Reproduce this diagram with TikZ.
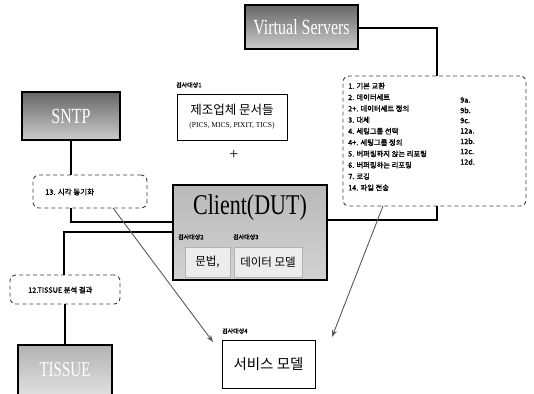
\documentclass[tikz,border=0pt]{standalone}
\usepackage{fontspec}
\usepackage{graphicx}
\setmainfont{Liberation Serif}
\newfontfamily\kr{Noto Sans CJK KR}
\newfontfamily\krb[FakeBold=1.6]{Noto Sans CJK KR}
\usetikzlibrary{arrows.meta}
\begin{document}
\begin{tikzpicture}[x=1pt,y=-1pt,
  darkbox/.style={draw=black, line width=1.6pt, top color=gray!80!black, bottom color=gray!40, text=white, inner sep=0pt},
  dashbox/.style={draw=black!75, dashed, dash pattern=on 4pt off 3pt, rounded corners=6pt, line width=0.9pt, inner sep=0pt},
  whitebox/.style={draw=black, line width=1pt, fill=white, inner sep=0pt},
  conn/.style={draw=black, line width=1.1pt},
  arr/.style={-{Stealth[length=7pt,width=5pt]}, line width=0.9pt, draw=black!65},
  lbl/.style={font=\krb\fontsize{6}{6}\selectfont, inner sep=0pt, anchor=west},
  item/.style={font=\krb\fontsize{7.3}{7.3}\selectfont, inner sep=0pt, anchor=west},
  innerbox/.style={draw=gray!60, fill=gray!15, inner sep=0pt, font=\kr\fontsize{11.5}{11.5}\selectfont}
]
\useasboundingbox (0,0) rectangle (534,393);

% Virtual Servers
\node[darkbox, minimum width=113pt, minimum height=44pt, font=\fontsize{16}{16}\selectfont] (vs) at (301.5,27) {\scalebox{1}[1.35]{Virtual Servers}};

% service list
\node[dashbox, minimum width=183pt, minimum height=130pt] (list) at (434.5,141) {};
\foreach \t [count=\i] in {1. 기본 교환, 2. 데이터세트, 2+. 데이터세트 정의, 3. 대체, 4. 세팅그룹 선택, 4+. 세팅그룹 정의, 5. 버퍼링하지 않는 리포팅, 6. 버퍼링하는 리포팅, 7. 로깅, 14. 파일 전송}
  \node[item] (it\i) at (348, {86+11.3*(\i-1)}) {\t};
\foreach \t [count=\i] in {9a., 9b., 9c., 12a., 12b., 12c., 12d.}
  \node[item] (nr\i) at (460, {100+10.3*(\i-1)}) {\t};

% SNTP
\node[darkbox, minimum width=98pt, minimum height=48pt, font=\fontsize{16}{16}\selectfont] (sntp) at (71,116) {\scalebox{1}[1.35]{SNTP}};
\node[dashbox, minimum width=114pt, minimum height=33pt] (sync) at (90,191.5) {};
\node[item, font=\krb\fontsize{7.5}{7.5}\selectfont] (synct) at (45,192) {13. 시각 동기화};

% Manufacturer documents
\node[lbl] (l1) at (176,85) {검사대상1};
\node[whitebox, minimum width=110pt, minimum height=46pt, align=center] (docs) at (232,117)
  {{\kr\fontsize{12.5}{14}\selectfont 제조업체 문서들}\\[1pt]{\fontsize{7.5}{8}\selectfont (PICS, MICS, PIXIT, TICS)}};
\node[font=\fontsize{16}{16}\selectfont, inner sep=0pt] (plus) at (234,155) {+};

% Client
\node[draw=black, line width=1.8pt, top color=gray!55, bottom color=gray!35, minimum width=154pt, minimum height=95pt, inner sep=0pt] (client) at (250,232.5) {};
\node[font=\fontsize{22}{22}\selectfont, inner sep=0pt] (ct) at (250,208) {\scalebox{1}[1.3]{Client(DUT)}};
\node[lbl] (l2) at (178,237) {검사대상2};
\node[lbl] (l3) at (233,237) {검사대상3};
\node[innerbox, minimum width=45pt, minimum height=30pt] (syn) at (207.5,262) {문법,};
\node[innerbox, minimum width=68pt, minimum height=30pt] (dm) at (268,262) {데이터 모델};

% TISSUE
\node[dashbox, minimum width=110pt, minimum height=29pt] (tres) at (65,289.5) {};
\node[item] (trest) at (28,290) {12.TISSUE 분석 결과};
\node[darkbox, top color=gray!60, bottom color=gray!25, minimum width=94pt, minimum height=50pt, font=\fontsize{15}{15}\selectfont] (tissue) at (65,370) {\scalebox{1}[1.4]{TISSUE}};

% Service model
\node[lbl] (l4) at (222,331) {검사대상4};
\node[whitebox, minimum width=93pt, minimum height=48pt, font=\kr\fontsize{14.5}{14.5}\selectfont] (svc) at (268.5,364) {서비스 모델};

% connectors
\draw[conn] (vs.east |- 0,28) -| (list.north -| 437,0);
\draw[conn] (client.east |- 0,220) -| (list.south -| 437,0);
\draw[conn] (sntp.south) -- (sync.north -| sntp.south);
\draw[conn] (sync.south -| 71,0) |- (client.west |- 0,222);
\draw[conn] (client.west |- 0,232) -| (tres.north -| 64,0);
\draw[conn] (tres.south) -- (tissue.north);

\coordinate (a1s) at (113,208);
\coordinate (a1e) at (213,342);
\coordinate (a2s) at (383,206);
\coordinate (a2e) at (332,337);
\draw[arr] (a1s) -- (a1e);
\draw[arr] (a2s) -- (a2e);
\end{tikzpicture}
\end{document}
